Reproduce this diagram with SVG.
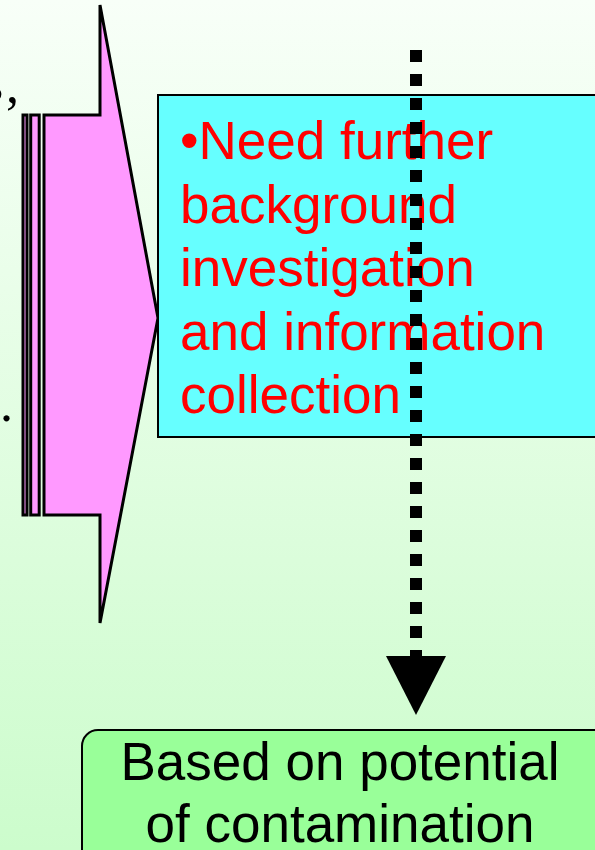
<svg xmlns="http://www.w3.org/2000/svg" width="595" height="850" viewBox="0 0 595 850">
<defs>
<linearGradient id="bg" x1="0" y1="0" x2="0" y2="1">
<stop offset="0" stop-color="#f8fff8"/>
<stop offset="1" stop-color="#ccfccc"/>
</linearGradient>
<style>
.t{font-family:"Liberation Sans",Arial,sans-serif;}
.s{font-family:"Liberation Serif","Times New Roman",serif;font-size:52px;fill:#000;}
.red{fill:#ff0000;font-size:53px;}
.blk{fill:#000;font-size:53px;}
.shape{stroke:#000;stroke-width:3;fill:#ff99ff;}
</style>
</defs>
<rect x="0" y="0" width="595" height="850" fill="url(#bg)"/>
<text class="s" x="-17" y="101">s</text>
<text class="s" x="6" y="102">,</text>
<text class="s" x="0" y="421">.</text>
<g id="arrow">
<rect class="shape" x="23" y="115" width="4" height="400"/>
<rect class="shape" x="30.7" y="115" width="8.5" height="400"/>
<path class="shape" d="M44 115 H100 V5 L158 318 L100 623 V515 H44 Z"/>
</g>
<g id="info">
<rect x="158" y="95" width="450" height="342" fill="#66ffff" stroke="#000" stroke-width="2"/>
<text class="t red" x="180"><tspan x="180" y="159">•Need further</tspan><tspan x="180" y="223">background</tspan><tspan x="180" y="286">investigation</tspan><tspan x="180" y="350">and information</tspan><tspan x="180" y="413">collection</tspan></text>
</g>
<g id="connectors">
<line x1="416" y1="50" x2="416" y2="656" stroke="#000" stroke-width="12" stroke-dasharray="12 12"/>
<polygon points="386,656 446,656 416,715" fill="#000"/>
</g>
<g id="result">
<rect x="82" y="730" width="528" height="150" rx="16" fill="#99ff99" stroke="#000" stroke-width="2"/>
<text class="t blk" text-anchor="middle"><tspan x="340" y="780">Based on potential</tspan><tspan x="340" y="842">of contamination</tspan></text>
</g>
</svg>
